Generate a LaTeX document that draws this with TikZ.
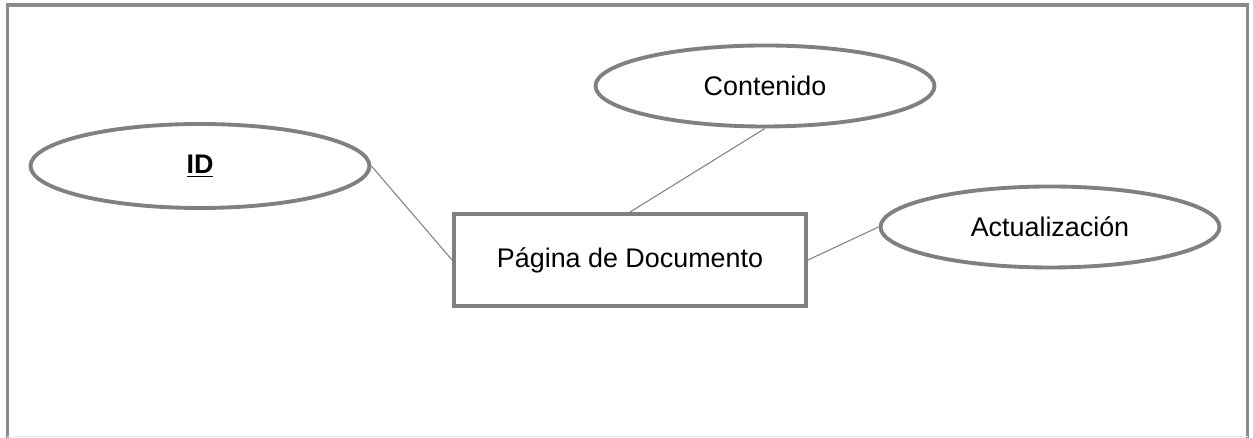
\documentclass[tikz,border=0pt]{standalone}
\usepackage{fontspec}
\setmainfont{Liberation Sans}
\usetikzlibrary{shapes.geometric}
\usetikzlibrary{positioning}
\definecolor{framegray}{HTML}{8A8A8A}
\definecolor{shapegray}{HTML}{808080}
\tikzset{
  attrib/.style={ellipse,draw=shapegray,line width=2.2pt,fill=white,inner sep=0pt,minimum width=6.78cm,minimum height=1.62cm,font=\fontsize{15.3pt}{18pt}\selectfont},
  entity/.style={rectangle,draw=shapegray,line width=2.2pt,fill=white,inner sep=0pt,minimum width=7.04cm,minimum height=1.84cm,font=\fontsize{15.3pt}{18pt}\selectfont},
  link/.style={draw=shapegray,line width=0.6pt}
}

\begin{document}
\begin{tikzpicture}
\useasboundingbox (0,0) rectangle (25.06,8.76);
\draw[framegray,line width=2pt] (0.15,0) -- (0.15,8.66) -- (24.95,8.66) -- (24.95,0);
\draw[black!8,line width=0.6pt] (0.15,0.03) -- (24.95,0.03);

\node[entity] (pagina) at (12.6,3.56) {Página de Documento};
\node[attrib,minimum height=1.68cm] (id) at (4.0,5.44) {\underline{\textbf{ID}}};
\node[attrib] (contenido) at (15.3,7.04) {Contenido};
\node[attrib] (actualiz) at (21.0,4.22) {Actualización};

\draw[link] (id.east) -- (pagina.west);
\draw[link] (contenido.south) -- (pagina.north);
\draw[link] (actualiz.west) -- (pagina.east);
\end{tikzpicture}
\end{document}
